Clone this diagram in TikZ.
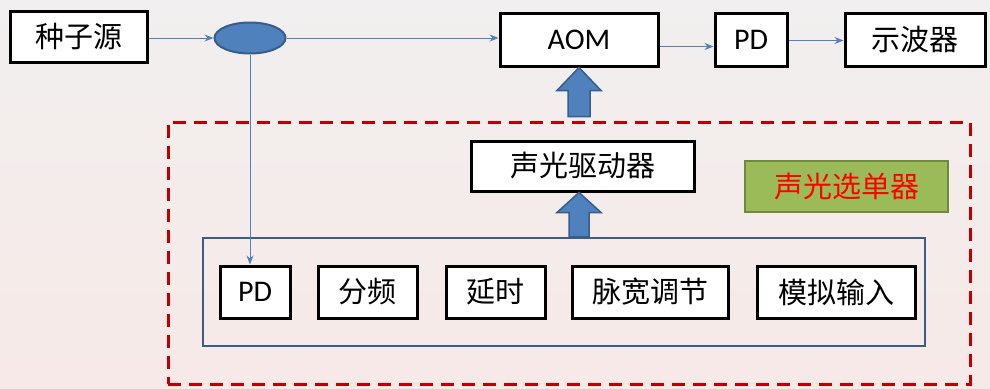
\documentclass[tikz,border=0pt]{standalone}
\usepackage{fontspec}
\setmainfont{Carlito}
\newfontfamily\cjk{Noto Sans CJK SC}
\usetikzlibrary{arrows.meta,calc,shapes.geometric}
\definecolor{ln}{HTML}{4F81BD}
\definecolor{lnd}{HTML}{385D8A}
\definecolor{dred}{HTML}{C00000}
\definecolor{grn}{HTML}{9BBB59}
\definecolor{grnd}{HTML}{71893F}
\definecolor{bgtop}{HTML}{F1EFEF}
\definecolor{bgbot}{HTML}{F7E9E7}
\newcommand\blockup[4]{%
  \path[blk] let \p1=(#1), \p2=(#2) in
    (\x1-#4,\y1) -- (\x1+#4,\y1) -- (\x1+#4,\y2-#3) -- (\x1+22pt,\y2-#3)
    -- (\x1,\y2) -- (\x1-22pt,\y2-#3) -- (\x1-#4,\y2-#3) -- cycle;}
\begin{document}
\begin{tikzpicture}[x=1pt,y=-1pt,
  box/.style={draw=black, line width=3pt, fill=white, inner sep=0pt,
    font=\cjk\fontsize{29}{32}\selectfont},
  lat/.style={font=\fontsize{30}{32}\selectfont},
  conn/.style={draw=ln, line width=1pt, -{Stealth[length=9pt,width=7pt]}},
  blk/.style={fill=ln, draw=lnd, line width=1.5pt, line join=miter},
  dashbox/.style={draw=dred, line width=3pt, dash pattern=on 13pt off 8pt, inner sep=0pt},
  frame/.style={draw=lnd, line width=2.5pt, inner sep=0pt},
  greenbox/.style={fill=grn, draw=grnd, line width=2.5pt, inner sep=0pt, text=red,
    font=\cjk\fontsize{29}{32}\selectfont}]
\useasboundingbox (0,0) rectangle (990,388);
\fill[top color=bgtop, bottom color=bgbot] (0,0) rectangle (990,388);

% top row
\node[box, minimum width=137, minimum height=51] (src) at (78.5,37) {种子源};
\node[ellipse, fill=ln, draw=lnd, line width=2pt, minimum width=71, minimum height=31, inner sep=0pt] (spl) at (250,38) {};
\node[box, lat, minimum width=158, minimum height=53] (aom) at (579,39.5) {AOM};
\node[box, lat, minimum width=72, minimum height=53] (pda) at (751,39.5) {PD};
\node[box, minimum width=140, minimum height=53] (osc) at (915,39.5) {示波器};

% dashed selector box
\node[dashbox, minimum width=802, minimum height=262] (sel) at (569,253) {};
\node[box, minimum width=223, minimum height=50] (drv) at (582.5,166) {声光驱动器};
\node[greenbox, minimum width=203, minimum height=51] (lab) at (846.5,186.5) {声光选单器};

% blue frame with modules
\node[frame, minimum width=722, minimum height=108] (frm) at (564,292) {};
\node[box, lat, minimum width=70, minimum height=52] (pdb) at (255,292) {PD};
\node[box, minimum width=99, minimum height=52] (div) at (367.5,292) {分频};
\node[box, minimum width=99, minimum height=52] (dly) at (495.5,292) {延时};
\node[box, minimum width=156, minimum height=52] (pw) at (650,292) {脉宽调节};
\node[box, minimum width=158, minimum height=52] (ana) at (836,292) {模拟输入};

% connectors
\draw[conn] (src.east |- spl.west) -- (spl.west);
\draw[conn] (spl.east) -- (spl.east -| aom.west);
\draw[conn] ([yshift=-7]aom.east) -- ([yshift=-7]pda.west);
\draw[conn] ([yshift=-1]pda.east) -- ([yshift=-1]osc.west);
\draw[conn] (spl.south) -- (spl.south |- pdb.north);

% block arrows
\coordinate (bigbot) at ($(sel.north -| aom.south)+(0,-4)$);
\blockup{bigbot}{aom.south}{23pt}{11pt}
\coordinate (smbot) at (frm.north -| aom.south);
\coordinate (smtip) at (drv.south -| aom.south);
\blockup{smbot}{smtip}{20pt}{10pt}
\end{tikzpicture}
\end{document}
